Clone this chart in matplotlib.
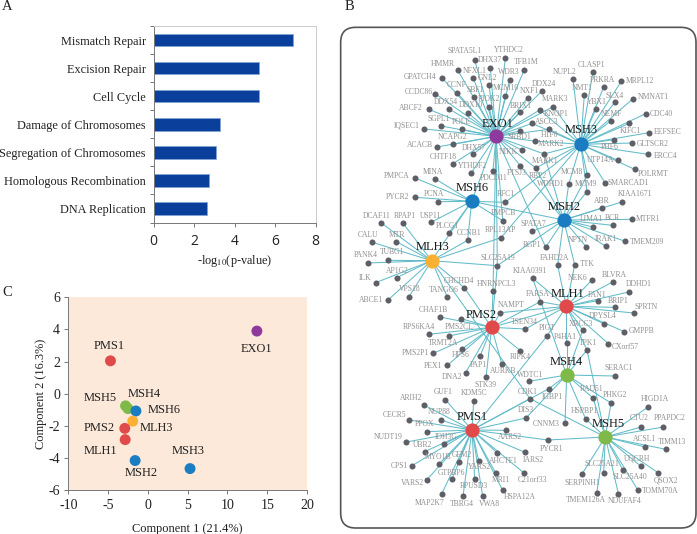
import matplotlib
matplotlib.use("Agg")
import matplotlib.pyplot as plt
from matplotlib.patches import FancyBboxPatch

plt.rcParams['font.family'] = ['Liberation Serif', 'DejaVu Serif']
plt.rcParams['axes.unicode_minus'] = False

W, H = 697, 534

######### PANEL A DATA ###############
pathways = ["Mismatch Repair", "Excision Repair", "Cell Cycle", "Damage of Chromosomes",
            "Segregation of Chromosomes", "Homologous Recombination", "DNA Replication"]
pathway_values = [6.9, 5.22, 5.22, 3.3, 3.08, 2.75, 2.62]

######### PANEL C DATA ###############
pca_names = ["EXO1", "PMS1", "MSH5", "MSH4", "MSH6", "MLH3", "PMS2", "MLH1", "MSH2", "MSH3"]
pca_x = [13.7, -4.7, -2.8, -2.5, -1.5, -1.9, -2.9, -2.85, -1.6, 5.3]
pca_y = [3.9, 2.05, -0.75, -0.92, -1.07, -1.7, -2.15, -2.85, -4.15, -4.65]
pca_label_x = [13.6, -4.8, -6.0, -0.45, 2.0, 1.1, -6.15, -6.0, -0.85, 5.1]
pca_label_y = [2.8, 3.0, -0.26, 0.0, -1.0, -2.1, -2.15, -3.55, -4.95, -3.55]

######### PANEL B DATA ###############
# everything in B is read off the picture, in units of 1/3 pixel from (340, 20)
# hub: name, x, y, label x, label y
hubs = [("EXO1", 468, 349, 472, 313), ("MSH3", 722, 373, 724, 330),
        ("MSH6", 395, 544, 397, 503), ("MSH2", 671, 600, 672, 562),
        ("MLH3", 275, 722, 277, 682), ("MLH1", 679, 859, 684, 822),
        ("PMS2", 455, 922, 423, 885), ("MSH4", 680, 1065, 680, 1025),
        ("PMS1", 396, 1230, 398, 1191), ("MSH5", 796, 1251, 805, 1211)]

# gene: name, x, y, label x, label y ("" = node with no label)
genes_exo1 = [("SPATA5L1", 404, 120, 375, 93), ("YTHDC2", 496, 115, 506, 89), ("DHX37", 451, 143, 451, 120),
              ("TFB1M", 553, 149, 558, 127), ("HMMR", 353, 150, 308, 133), ("NFXL1", 400, 175, 404, 153),
              ("GNL2", 447, 196, 444, 175), ("WDR3", 509, 180, 507, 156), ("GPATCH4", 307, 175, 241, 171),
              ("CCNF", 351, 218, 349, 196), ("SBF1", 402, 230, 407, 209), ("MCM10", 496, 228, 497, 205),
              ("CCDC86", 286, 221, 235, 215), ("DDX54", 327, 267, 318, 245), ("RIOK2", 447, 261, 448, 238),
              ("NXF1", 564, 233, 567, 214), ("DDX24", 605, 214, 612, 192), ("DDX10", 384, 279, 393, 255),
              ("BRIX1", 539, 277, 541, 257), ("ABCF2", 266, 268, 213, 265), ("SGPL1", 304, 318, 296, 297),
              ("POLE", 366, 328, 365, 306), ("IQSEC1", 252, 327, 199, 317), ("NCAPG2", 340, 373, 339, 351),
              ("ACACB", 291, 381, 241, 375), ("SRBD1", 539, 333, 538, 351), ("DHX57", 400, 402, 401, 384),
              ("CHTF18", 339, 431, 309, 411), ("NIKK", 546, 391, 505, 396), ("FTSJ3", 541, 437, 530, 460),
              ("YTHDF2", 393, 460, 397, 438), ("PDCD11", 459, 452, 460, 474)]

genes_msh3 = [("NUPL2", 699, 177, 674, 157), ("CLASP1", 759, 155, 756, 135), ("PRKRA", 791, 201, 788, 179),
              ("MRPL12", 844, 184, 899, 183), ("NMT1", 733, 224, 727, 203), ("SLX4", 825, 247, 825, 228),
              ("YBX1", 768, 266, 771, 245), ("NMNAT1", 879, 236, 939, 232), ("NEMF", 813, 302, 815, 281),
              ("CDC40", 917, 281, 965, 281), ("KIFC1", 868, 310, 872, 332), ("EEFSEC", 927, 338, 983, 337),
              ("PHF6", 822, 359, 808, 381), ("GLTSCR2", 876, 369, 937, 371), ("ERCC4", 924, 403, 976, 407),
              ("UTP14A", 834, 421, 783, 420), ("POLRMT", 884, 448, 940, 462), ("SMARCAD1", 795, 488, 866, 488),
              ("MARK3", 640, 260, 645, 238), ("KNOP1", 599, 270, 648, 281), ("ASCC3", 576, 310, 620, 305),
              ("H1F0", 627, 328, 629, 345), ("MARK2", 612, 402, 632, 373), ("MARK1", 587, 444, 615, 424),
              ("RBP2", 584, 363, 594, 467)]

genes_msh6 = [("PMPCA", 225, 474, 169, 467), ("MINA", 285, 476, 279, 455), ("PYCR2", 226, 532, 172, 532),
              ("PCNA", 293, 545, 283, 523), ("USP11", 273, 607, 273, 587), ("PLCG1", 327, 638, 323, 617),
              ("CCNB1", 383, 661, 388, 640), ("PMPCB", 488, 602, 491, 578), ("RFC1", 496, 547, 496, 523)]

genes_msh2 = [("MCM8", 742, 465, 697, 456), ("MCM9", 741, 515, 737, 493), ("WDHD1", 686, 493, 632, 493),
              ("KIAA1671", 845, 546, 884, 523), ("ABR", 786, 564, 786, 542), ("LIMA1", 759, 621, 754, 597),
              ("BCR", 818, 616, 818, 594), ("MTFR1", 875, 598, 925, 597), ("TMEM209", 856, 664, 921, 665),
              ("IRAK1", 798, 679, 799, 658), ("NPTN", 738, 680, 712, 661), ("RGP1", 617, 682, 577, 676),
              ("SPATA7", 577, 633, 580, 612), ("FAHD2A", 653, 736, 645, 713), ("TTK", 704, 734, 742, 731)]

genes_mlh3 = [("DCAF11", 123, 608, 109, 587), ("RPAP1", 189, 610, 195, 587), ("CALU", 97, 667, 85, 645),
              ("MTR", 169, 665, 171, 645), ("PANK4", 83, 729, 76, 705), ("TUBG1", 145, 721, 156, 697),
              ("AP1G2", 170, 773, 172, 753), ("ILK", 107, 788, 74, 775), ("VPS18", 207, 830, 210, 807),
              ("ABCE1", 144, 840, 94, 841), ("TANGO6", 322, 831, 311, 810), ("CHCHD4", 373, 803, 356, 784),
              ("RPL13AP", 483, 653, 480, 630), ("SLC25A19", 472, 737, 473, 713)]

genes_mlh1 = [("NEK6", 757, 779, 714, 775), ("BLVRA", 818, 786, 822, 766), ("DDHD1", 866, 816, 895, 791),
              ("FARSA", 601, 845, 592, 823), ("FAN1", 773, 842, 771, 826), ("BRIP1", 825, 862, 833, 842),
              ("SPRTN", 881, 879, 918, 861), ("DPYSL4", 791, 911, 789, 887), ("XRCC3", 728, 931, 722, 911),
              ("GMPPB", 853, 935, 905, 933), ("CXorf57", 805, 971, 857, 980), ("TPK1", 741, 990, 745, 969),
              ("P4HA1", 680, 970, 677, 950), ("KIAA0391", 578, 775, 571, 754), ("PIGT", 622, 947, 622, 923)]

genes_pms2 = [("HNRNPCL3", 459, 814, 470, 791), ("NAMPT", 481, 878, 514, 856), ("CHAF1B", 300, 891, 280, 871),
              ("PMS2CL", 326, 948, 356, 920), ("", 363, 896, 0, 0), ("RPS6KA4", 266, 943, 237, 922),
              ("TRMT2A", 366, 987, 310, 969), ("PMS2P1", 280, 1000, 225, 999), ("TSEN34", 556, 927, 553, 906),
              ("HPS6", 420, 1009, 363, 1006), ("RIPK4", 541, 992, 541, 1010), ("PEX1", 322, 1036, 280, 1037),
              ("PAP1", 438, 1072, 416, 1034), ("DNA2", 377, 1058, 337, 1072), ("AURKB", 485, 1031, 490, 1053)]

genes_msh4 = [("SERAC1", 825, 1068, 837, 1045), ("WDTC1", 566, 1084, 571, 1065), ("IGBP1", 627, 1106, 637, 1130),
              ("RAD51", 759, 1134, 756, 1108), ("PHKG2", 813, 1149, 826, 1124), ("HSPBP1", 737, 1197, 732, 1173),
              ("CNNM3", 675, 1210, 620, 1213)]

genes_pms1 = [("DIS3", 558, 1194, 556, 1171), ("GUF1", 316, 1139, 309, 1117), ("KDM5C", 401, 1142, 403, 1120),
              ("ARIH2", 252, 1155, 214, 1134), ("NUP88", 302, 1200, 296, 1175), ("CECR5", 208, 1200, 163, 1186),
              ("PPOX", 260, 1235, 254, 1213), ("NUDT19", 199, 1266, 146, 1252), ("IDH3G", 312, 1272, 317, 1252),
              ("UBR2", 254, 1295, 247, 1275), ("AARS2", 499, 1231, 510, 1252), ("PYCR1", 624, 1260, 636, 1286),
              ("IARS2", 555, 1297, 579, 1321), ("MYO1B", 296, 1333, 295, 1312), ("GFM2", 356, 1325, 366, 1304),
              ("AHCTF1", 472, 1299, 490, 1322), ("YARS2", 416, 1323, 420, 1342), ("MRI1", 467, 1359, 481, 1381),
              ("C21orf33", 553, 1360, 576, 1381), ("CPS1", 216, 1337, 177, 1337), ("VARS2", 260, 1380, 216, 1389),
              ("GTPBP6", 336, 1377, 333, 1358), ("RPUSD3", 404, 1376, 403, 1399), ("HSPA12A", 488, 1411, 539, 1431),
              ("MAP2K7", 305, 1422, 269, 1449), ("TBRG4", 369, 1428, 366, 1452), ("VWA8", 428, 1428, 447, 1452)]

genes_msh5 = [("HIGD1A", 924, 1161, 945, 1138), ("CTU2", 904, 1221, 899, 1193), ("PPAPDC2", 970, 1221, 988, 1193),
              ("ACSL1", 916, 1281, 913, 1258), ("TIMM13", 978, 1288, 997, 1266), ("UQCRH", 902, 1338, 890, 1316),
              ("QSOX2", 954, 1358, 979, 1381), ("SLC25A21", 791, 1358, 787, 1333), ("SLC25A40", 849, 1351, 868, 1372),
              ("TOMM70A", 893, 1409, 961, 1414), ("SERPINH1", 726, 1362, 728, 1389), ("NDUFAF4", 835, 1421, 855, 1444),
              ("TMEM126A", 770, 1420, 738, 1441), ("CDK1", 570, 1136, 562, 1116)]

# labels that sit apart from any node
loose_labels = [("STK39", 438, 1096)]

# gene lists that go with each hub
hub_groups = [("EXO1", genes_exo1), ("MSH3", genes_msh3), ("MSH6", genes_msh6), ("MSH2", genes_msh2),
              ("MLH3", genes_mlh3), ("MLH1", genes_mlh1), ("PMS2", genes_pms2), ("MSH4", genes_msh4),
              ("PMS1", genes_pms1), ("MSH5", genes_msh5)]

# links to a second hub
extra_links = [("MARK3", "EXO1"), ("KNOP1", "EXO1"), ("ASCC3", "EXO1"), ("H1F0", "EXO1"), ("MARK2", "EXO1"),
               ("MARK1", "EXO1"), ("RBP2", "EXO1"), ("MCM8", "MSH3"), ("MCM9", "MSH3"), ("WDHD1", "MSH3"),
               ("RPL13AP", "MSH3"), ("SLC25A19", "EXO1"), ("SLC25A19", "MSH2"), ("SLC25A19", "PMS2"),
               ("RFC1", "MSH3"), ("PMPCB", "EXO1"), ("CCNB1", "MLH3"), ("FAHD2A", "MLH1"), ("FARSA", "PMS2"),
               ("NAMPT", "MLH1"), ("TSEN34", "MLH1"), ("PIGT", "PMS1"), ("KIAA0391", "MSH4"),
               ("CHCHD4", "PMS2"), ("CDK1", "MLH3"), ("CDK1", "PMS1"), ("DIS3", "MSH4"), ("IGBP1", "PMS1"),
               ("PYCR1", "MSH5"), ("TPK1", "MSH5"), ("TPK1", "MSH4"), ("XRCC3", "MSH4"), ("P4HA1", "MSH4"),
               ("HNRNPCL3", "EXO1"), ("TTK", "MLH1"), ("RAD51", "MSH5"), ("HSPBP1", "MSH5"), ("PHKG2", "MSH5"),
               ("RGP1", "EXO1"), ("MARK1", "MSH2"), ("MARK2", "MSH2"), ("FTSJ3", "MSH2")]
hub_links = [("MSH6", "MSH2"), ("MSH6", "EXO1"), ("MSH6", "MLH3"), ("PMS2", "MLH1")]

hub_colors = {"EXO1": "#8e3a9d", "MSH3": "#1b7dc1", "MSH6": "#1b7dc1", "MSH2": "#1b7dc1", "MLH3": "#fbb034",
              "MLH1": "#e04a4a", "PMS2": "#e04a4a", "PMS1": "#e04a4a", "MSH4": "#7fb94a", "MSH5": "#7fb94a"}

fig = plt.figure(figsize=(W / 100, H / 100), dpi=100)


def pixel_axes(x0, y0, x1, y1):
    # axes from a pixel box, y measured from the top
    return fig.add_axes([x0 / W, 1 - y1 / H, (x1 - x0) / W, (y1 - y0) / H])


######### PANEL A ###############
axA = pixel_axes(153.5, 26, 315.5, 222.5)
pos = list(range(len(pathways)))
axA.barh(pos, pathway_values, height=0.45, color="#0a3f9b", edgecolor="#7fa6d6", linewidth=0.5)
axA.set_xlim(0, 8)
axA.set_ylim(6.5, -0.5)
axA.set_yticks([p - 0.5 for p in pos] + [6.5])
axA.set_yticklabels([])
axA.set_yticks(pos, minor=True)
axA.set_yticklabels(pathways, minor=True, fontsize=8.8, color="#222222")
axA.tick_params(axis="y", which="minor", length=0, pad=5.5)
axA.tick_params(axis="y", which="major", length=3, color="#777777", width=0.7)
axA.set_xticks([0, 2, 4, 6, 8])
axA.tick_params(axis="x", length=3, color="#777777", width=0.7, labelsize=10, pad=5, labelcolor="#222222")
for t in axA.get_xticklabels():
    t.set_family("Open Sans")
axA.spines["left"].set_color("#777777")
axA.spines["bottom"].set_color("#777777")
axA.spines["top"].set_color("#cccccc")
axA.spines["right"].set_color("#cccccc")
for s in axA.spines.values():
    s.set_linewidth(0.7)
axA.set_xlabel(r"-log$_{10}$(p-value)", fontsize=8.8, color="#222222", labelpad=3,
               math_fontfamily="stix")

######### PANEL C ###############
axC = pixel_axes(68.3, 297.3, 307, 490.3)
axC.set_facecolor("#fde9d9")
axC.scatter(pca_x, pca_y, s=62, linewidths=0, zorder=3,
            c=[hub_colors[n] for n in pca_names])
for name, lx, ly in zip(pca_names, pca_label_x, pca_label_y):
    axC.text(lx, ly, name, fontsize=8.9, ha="center", va="center", color="#222222")
axC.set_xlim(-10, 20)
axC.set_ylim(-6, 6)
axC.set_xticks(range(-10, 21, 5))
axC.set_yticks(range(-6, 7, 2))
axC.tick_params(length=3, color="#777777", width=0.7, labelsize=10, pad=3, labelcolor="#222222")
for s in ["top", "right"]:
    axC.spines[s].set_visible(False)
for s in ["left", "bottom"]:
    axC.spines[s].set_color("#777777")
    axC.spines[s].set_linewidth(0.7)
axC.set_xlabel("Component 1 (21.4%)", fontsize=8.9, color="#222222", labelpad=8)
axC.set_ylabel("Component 2 (16.3%)", fontsize=8.9, color="#222222", labelpad=1)

######### PANEL B ###############
axB = pixel_axes(340, 20, 697, 534)
axB.set_xlim(0, 1071)
axB.set_ylim(1542, 0)
axB.axis("off")
axB.add_patch(FancyBboxPatch((47, 67), 976, 1412, boxstyle="round,pad=45,rounding_size=45",
                             facecolor="white", edgecolor="#555555", lw=1.2, clip_on=False))

hub_pos = {h[0]: (h[1], h[2]) for h in hubs}
gene_pos = {}
for hub, genes in hub_groups:
    for name, x, y, lx, ly in genes:
        gene_pos[name] = (x, y)

edge_col = "#62bcc9"
for hub, genes in hub_groups:
    hx, hy = hub_pos[hub]
    for name, x, y, lx, ly in genes:
        axB.plot([hx, x], [hy, y], color=edge_col, lw=0.75, zorder=1)
for gene, hub in extra_links:
    axB.plot([gene_pos[gene][0], hub_pos[hub][0]], [gene_pos[gene][1], hub_pos[hub][1]],
             color=edge_col, lw=0.75, zorder=1)
for a, b in hub_links:
    axB.plot([hub_pos[a][0], hub_pos[b][0]], [hub_pos[a][1], hub_pos[b][1]],
             color=edge_col, lw=0.75, zorder=1)

label_col = "#8f8f8f"
for hub, genes in hub_groups:
    axB.scatter([g[1] for g in genes], [g[2] for g in genes], s=19, color="#5e5e66",
                linewidths=0, zorder=2)
    for name, x, y, lx, ly in genes:
        if name:
            axB.text(lx, ly, name, fontsize=5.5, color=label_col, ha="center", va="center", zorder=4)
for name, lx, ly in loose_labels:
    axB.text(lx, ly, name, fontsize=5.5, color=label_col, ha="center", va="center", zorder=4)

for name, x, y, lx, ly in hubs:
    axB.scatter([x], [y], s=105, color=hub_colors[name], linewidths=0, zorder=3)
    axB.text(lx, ly, name, fontsize=9, color="#1a1a1a", ha="center", va="center", zorder=5)

######### PANEL LETTERS ###############
fig.text(2 / W, 1 - 7 / H, "A", fontsize=10.5, va="center", color="#222222")
fig.text(345 / W, 1 - 7 / H, "B", fontsize=10.5, va="center", color="#222222")
fig.text(2 / W, 1 - 293 / H, "C", fontsize=10.5, va="center", color="#222222")

fig.savefig("out.png", dpi=100)
